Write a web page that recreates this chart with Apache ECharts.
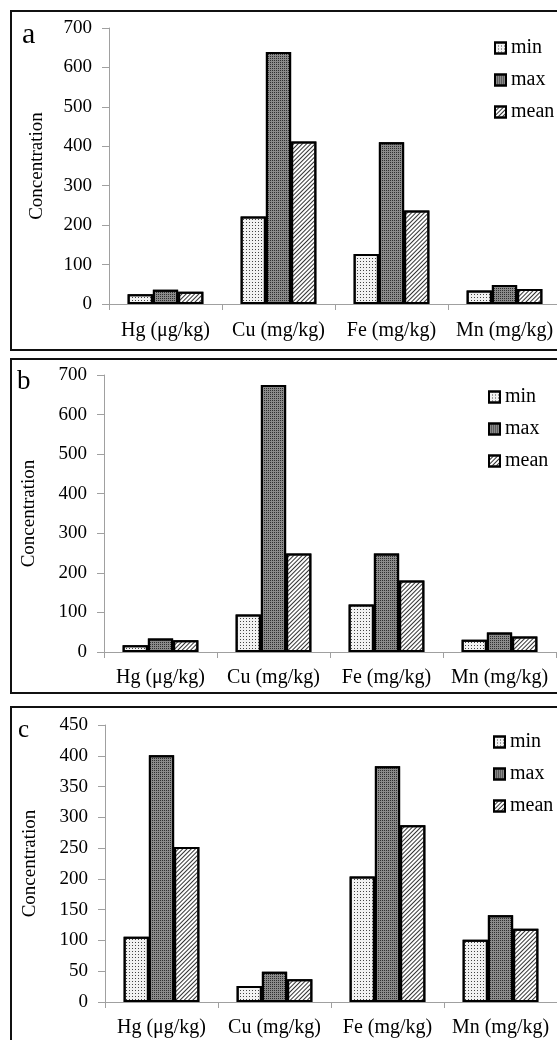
<!DOCTYPE html>
<html>
<head>
<meta charset="utf-8">
<script src="https://cdn.jsdelivr.net/npm/echarts@6/dist/echarts.min.js"></script>
<style>
html,body{margin:0;padding:0;background:#fff;overflow:hidden;}
#main{width:600px;height:1040px;}
</style>
</head>
<body>
<div id="main"></div>
<script>
// ---- data ----
const categories = ['Hg (\u03bcg/kg)', 'Cu (mg/kg)', 'Fe (mg/kg)', 'Mn (mg/kg)'];
const seriesNames = ['min', 'max', 'mean'];
const aMin  = [25, 222, 127, 34];
const aMax  = [36, 639, 410, 48];
const aMean = [31, 412, 237, 38];
const bMin  = [17, 95, 120, 31];
const bMax  = [34, 675, 249, 49];
const bMean = [30, 249, 181, 39];
const cMin  = [106, 26, 204, 101];
const cMax  = [401, 49, 383, 141];
const cMean = [252, 37, 287, 119];
const yTicksAB = [0, 100, 200, 300, 400, 500, 600, 700];
const yTicksC  = [0, 50, 100, 150, 200, 250, 300, 350, 400, 450];
const panelLetters = ['a', 'b', 'c'];

const FONT = '"Liberation Serif", "Times New Roman", serif';

const styles = {
  min:  { color: '#f2f2f2', borderColor: '#000', borderWidth: 2,
          decal: { symbol: 'rect', symbolSize: 1, color: '#444', dashArrayX: [1, 2], dashArrayY: [1, 2] } },
  max:  { color: '#8a8a8a', borderColor: '#000', borderWidth: 2,
          decal: { symbol: 'rect', symbolSize: 1, color: '#2e2e2e', dashArrayX: [1, 1], dashArrayY: [1, 1] } },
  mean: { color: '#ffffff', borderColor: '#000', borderWidth: 2,
          decal: { symbol: 'rect', symbolSize: 1, color: '#333', dashArrayX: [1, 0], dashArrayY: [1, 2], rotation: -Math.PI / 4 } }
};

const panels = [
  { data: [aMin, aMax, aMean], ticks: yTicksAB, grid: { left: 109, top: 28, width: 452, height: 276 },
    legend: { left: 494, top: 38 }, nameGap: 62, labelMargin: 17, box: { y: 11, h: 339 }, letter: { x: 22, y: 35, size: 30 } },
  { data: [bMin, bMax, bMean], ticks: yTicksAB, grid: { left: 104, top: 375, width: 452, height: 277 },
    legend: { left: 488, top: 387 }, nameGap: 65, labelMargin: 16, box: { y: 359, h: 334 }, letter: { x: 17, y: 382, size: 27 } },
  { data: [cMin, cMax, cMean], ticks: yTicksC, grid: { left: 105, top: 725, width: 452, height: 277 },
    legend: { left: 493, top: 732 }, nameGap: 65, labelMargin: 16, box: { y: 707, h: 400 }, letter: { x: 18, y: 730, size: 25 } }
];

const grids = [], xAxes = [], yAxes = [], series = [], legends = [], graphics = [];
panels.forEach((p, i) => {
  grids.push(p.grid);
  xAxes.push({
    type: 'category', gridIndex: i, data: categories,
    axisLine: { lineStyle: { color: '#a0a0a0', width: 1 } },
    axisTick: { show: true, length: 6, lineStyle: { color: '#a0a0a0' } },
    axisLabel: { color: '#000', fontFamily: FONT, fontSize: 20, margin: p.labelMargin, interval: 0 }
  });
  const t = p.ticks;
  yAxes.push({
    type: 'value', gridIndex: i, min: t[0], max: t[t.length - 1], interval: t[1] - t[0],
    name: 'Concentration', nameLocation: 'middle', nameGap: p.nameGap,
    nameTextStyle: { color: '#000', fontFamily: FONT, fontSize: 19 },
    axisLine: { show: true, lineStyle: { color: '#a0a0a0', width: 1 } },
    axisTick: { show: true, length: 7, lineStyle: { color: '#a0a0a0' } },
    splitLine: { show: false },
    axisLabel: { color: '#000', fontFamily: FONT, fontSize: 19, margin: 17 }
  });
  seriesNames.forEach((n, k) => {
    series.push({
      name: n, type: 'bar', xAxisIndex: i, yAxisIndex: i, data: p.data[k],
      barGap: '0%', barCategoryGap: '33%', itemStyle: styles[n],
      emphasis: { disabled: true }
    });
  });
  legends.push({
    data: seriesNames, orient: 'vertical', left: p.legend.left, top: p.legend.top, padding: 0,
    itemWidth: 11, itemHeight: 11, itemGap: 12, icon: 'rect', selectedMode: false,
    textStyle: { color: '#000', fontFamily: FONT, fontSize: 20 }
  });
  graphics.push({
    type: 'rect', shape: { x: 11, y: p.box.y, width: 620, height: p.box.h },
    style: { fill: 'transparent', stroke: '#111', lineWidth: 2 }, z: 100, silent: true
  });
  graphics.push({
    type: 'text', x: p.letter.x, y: p.letter.y,
    style: { text: panelLetters[i], font: p.letter.size + 'px ' + FONT, fill: '#000', verticalAlign: 'middle', align: 'left' },
    z: 100, silent: true
  });
});

const chart = echarts.init(document.getElementById('main'), null, { renderer: 'canvas' });
chart.setOption({
  backgroundColor: '#fff',
  animation: false,
  grid: grids, xAxis: xAxes, yAxis: yAxes, series: series, legend: legends,
  graphic: graphics
});
</script>
</body>
</html>
